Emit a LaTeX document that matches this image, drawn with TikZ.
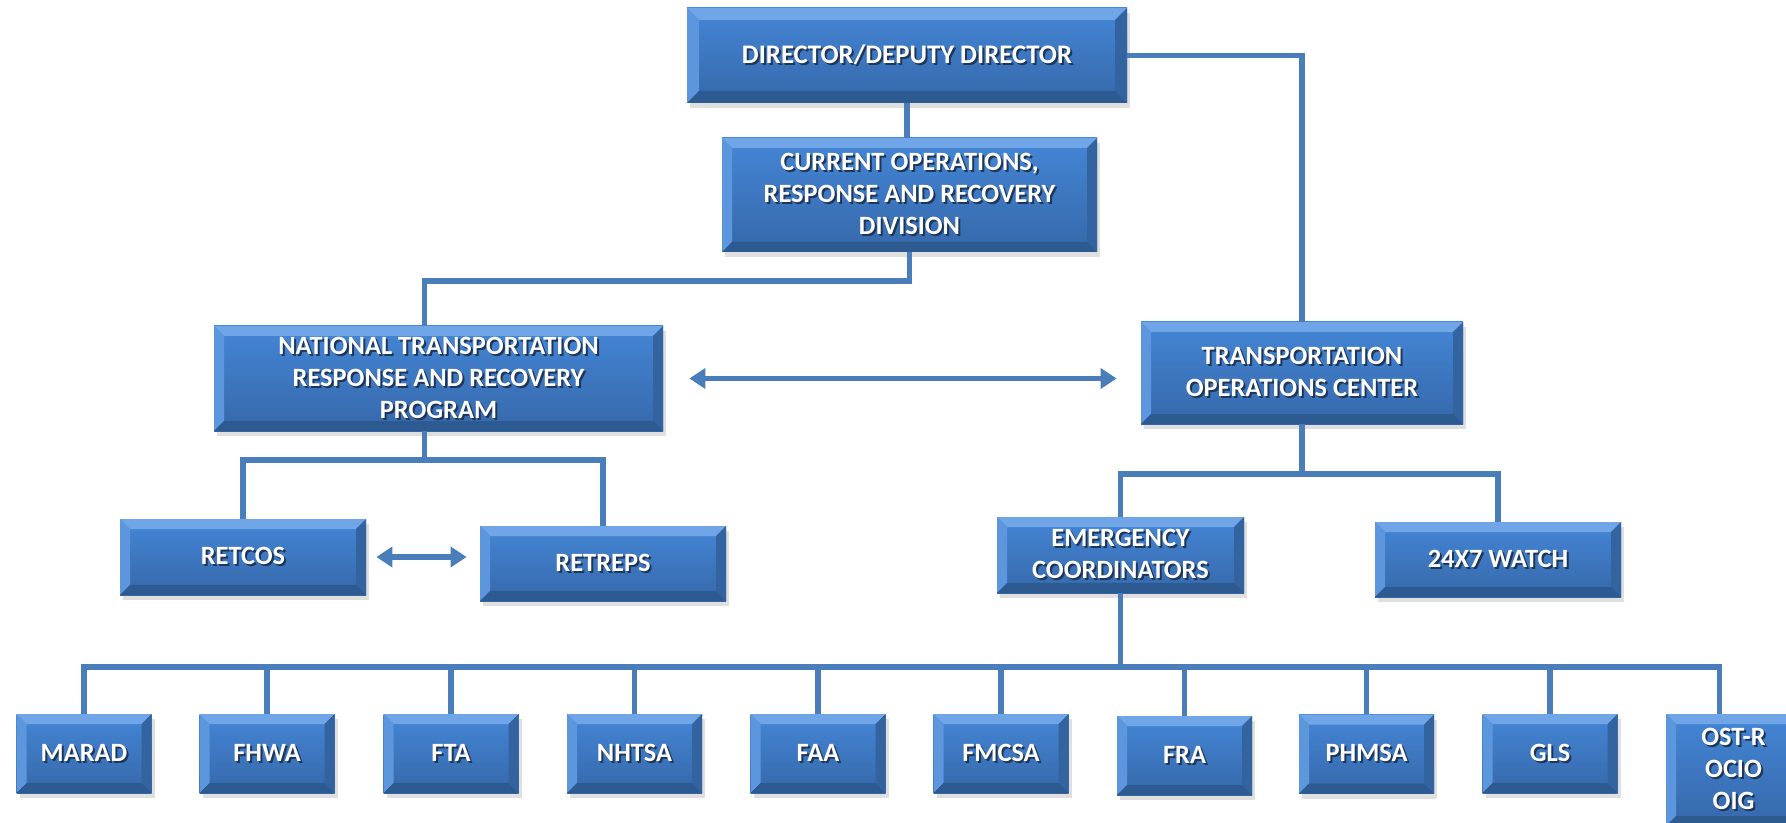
\documentclass[tikz,border=0pt]{standalone}
\usepackage{fontspec}
\setmainfont{Carlito}
\usetikzlibrary{arrows.meta,shadows}

\definecolor{linkblue}{RGB}{74,126,187}
\definecolor{boxtop}{RGB}{68,134,214}
\definecolor{boxbot}{RGB}{54,104,170}
\definecolor{bevlight}{RGB}{112,166,232}
\definecolor{bevleft}{RGB}{92,150,220}
\definecolor{bevright}{RGB}{52,100,160}
\definecolor{bevdark}{RGB}{46,90,146}
\definecolor{txtshadow}{RGB}{30,54,90}
\newcommand\shd[1]{\rlap{\kern1pt\raisebox{-1pt}{\color{txtshadow}#1}}#1}

\begin{document}
\begin{tikzpicture}[x=0.5pt,y=-0.5pt,bevel/.store in=\bevw,bevel=5pt]
  \tikzstyle{box}=[rectangle,top color=boxtop,bottom color=boxbot,text=white,align=center,inner sep=0pt,
    font=\bfseries\fontsize{13.2}{16}\selectfont,
    drop shadow={shadow xshift=1.5pt,shadow yshift=-2.5pt,opacity=0.25},
    path picture={
      \fill[bevlight] (path picture bounding box.north west) -- (path picture bounding box.north east)
        -- ([shift={(-\bevw,-\bevw)}]path picture bounding box.north east) -- ([shift={(\bevw,-\bevw)}]path picture bounding box.north west) -- cycle;
      \fill[bevleft] (path picture bounding box.north west) -- (path picture bounding box.south west)
        -- ([shift={(\bevw,\bevw)}]path picture bounding box.south west) -- ([shift={(\bevw,-\bevw)}]path picture bounding box.north west) -- cycle;
      \fill[bevright] (path picture bounding box.north east) -- (path picture bounding box.south east)
        -- ([shift={(-\bevw,\bevw)}]path picture bounding box.south east) -- ([shift={(-\bevw,-\bevw)}]path picture bounding box.north east) -- cycle;
      \fill[bevdark] (path picture bounding box.south west) -- (path picture bounding box.south east)
        -- ([shift={(-\bevw,\bevw)}]path picture bounding box.south east) -- ([shift={(\bevw,\bevw)}]path picture bounding box.south west) -- cycle;
    }]
  \tikzstyle{agency}=[box,minimum width=67.5pt,minimum height=39.5pt]
  \tikzstyle{link}=[draw=linkblue,line width=2.6pt]
  \tikzstyle{both}=[link,{Triangle[length=8pt,width=10pt]}-{Triangle[length=8pt,width=10pt]}]

  \useasboundingbox (0,0) rectangle (1786,823);
  \clip (0,0) rectangle (1786,823);

  \node[box,bevel=6pt,minimum width=220pt,minimum height=47.5pt,font=\bfseries\fontsize{13.4}{16}\selectfont] (dir) at (907,55.5) {\shd{DIRECTOR/DEPUTY DIRECTOR}};
  \node[box,minimum width=187.5pt,minimum height=57pt] (cur) at (909.5,195) {\shd{CURRENT OPERATIONS,}\\\shd{RESPONSE AND RECOVERY}\\\shd{DIVISION}};
  \node[box,minimum width=224.5pt,minimum height=52.5pt] (ntr) at (438.5,378.5) {\shd{NATIONAL TRANSPORTATION}\\\shd{RESPONSE AND RECOVERY}\\\shd{PROGRAM}};
  \node[box,minimum width=161pt,minimum height=51pt] (toc) at (1302,373) {\shd{TRANSPORTATION}\\\shd{OPERATIONS CENTER}};
  \node[box,minimum width=123pt,minimum height=38pt] (retcos) at (243,557) {\shd{RETCOS}};
  \node[box,minimum width=123pt,minimum height=37.5pt] (retreps) at (603,563.5) {\shd{RETREPS}};
  \node[box,minimum width=123.5pt,minimum height=38pt] (ec) at (1120.5,555) {\shd{EMERGENCY}\\\shd{COORDINATORS}};
  \node[box,minimum width=123pt,minimum height=37.5pt] (watch) at (1498,559.5) {\shd{24X7 WATCH}};

  \node[agency] (marad) at (84,753.5) {\shd{MARAD}};
  \node[agency] (fhwa) at (267,753.5) {\shd{FHWA}};
  \node[agency] (fta) at (451,753.5) {\shd{FTA}};
  \node[agency] (nhtsa) at (634.5,753.5) {\shd{NHTSA}};
  \node[agency] (faa) at (818,753.5) {\shd{FAA}};
  \node[agency] (fmcsa) at (1001,753.5) {\shd{FMCSA}};
  \node[agency] (fra) at (1184.5,755.5) {\shd{FRA}};
  \node[agency] (phmsa) at (1366.5,754) {\shd{PHMSA}};
  \node[agency] (gls) at (1550,753.5) {\shd{GLS}};
  \node[agency,minimum height=56pt] (ostr) at (1733.5,770) {\shd{OST-R}\\\shd{OCIO}\\\shd{OIG}};

  \coordinate (bus1) at (0,281);
  \coordinate (bus2) at (0,460);
  \coordinate (bus3) at (0,474);
  \coordinate (bus4) at (0,667);
  \coordinate (ntrtop) at ([xshift=-7pt]ntr.north);
  \coordinate (ntrbot) at ([xshift=-7pt]ntr.south);
  \coordinate (osttop) at ([xshift=-7pt]ostr.north);
  \coordinate (ta) at ([xshift=-12pt]toc.west);
  \coordinate (tb) at ([xshift=-6.5pt]retreps.west);

  \draw[link] (dir.south) -- (dir.south |- cur.north);
  \draw[link] (dir.east) -| (toc.north);
  \draw[link] (cur.south) |- (ntrtop |- bus1) -- (ntrtop);
  \draw[link] (ntrbot) -- (ntrbot |- bus2);
  \draw[link] (retcos.north) |- (ntrbot |- bus2);
  \draw[link] (retreps.north) |- (ntrbot |- bus2);
  \draw[link] (toc.south) -- (toc.south |- bus3);
  \draw[link] (ec.north) |- (toc.south |- bus3);
  \draw[link] (watch.north) |- (toc.south |- bus3);
  \draw[link] (ec.south) -- (ec.south |- bus4);
  \draw[link] (marad.north) |- (ec.south |- bus4);
  \draw[link] (fhwa.north) |- (ec.south |- bus4);
  \draw[link] (fta.north) |- (ec.south |- bus4);
  \draw[link] (nhtsa.north) |- (ec.south |- bus4);
  \draw[link] (faa.north) |- (ec.south |- bus4);
  \draw[link] (fmcsa.north) |- (ec.south |- bus4);
  \draw[link] (fra.north) |- (ec.south |- bus4);
  \draw[link] (phmsa.north) |- (ec.south |- bus4);
  \draw[link] (gls.north) |- (ec.south |- bus4);
  \draw[link] (osttop) |- (ec.south |- bus4);

  \draw[both] ([xshift=13pt]ntr.east) -- (ta |- ntr.east);
  \draw[both] ([xshift=5pt]retcos.east) -- (tb |- retcos.east);
\end{tikzpicture}
\end{document}
